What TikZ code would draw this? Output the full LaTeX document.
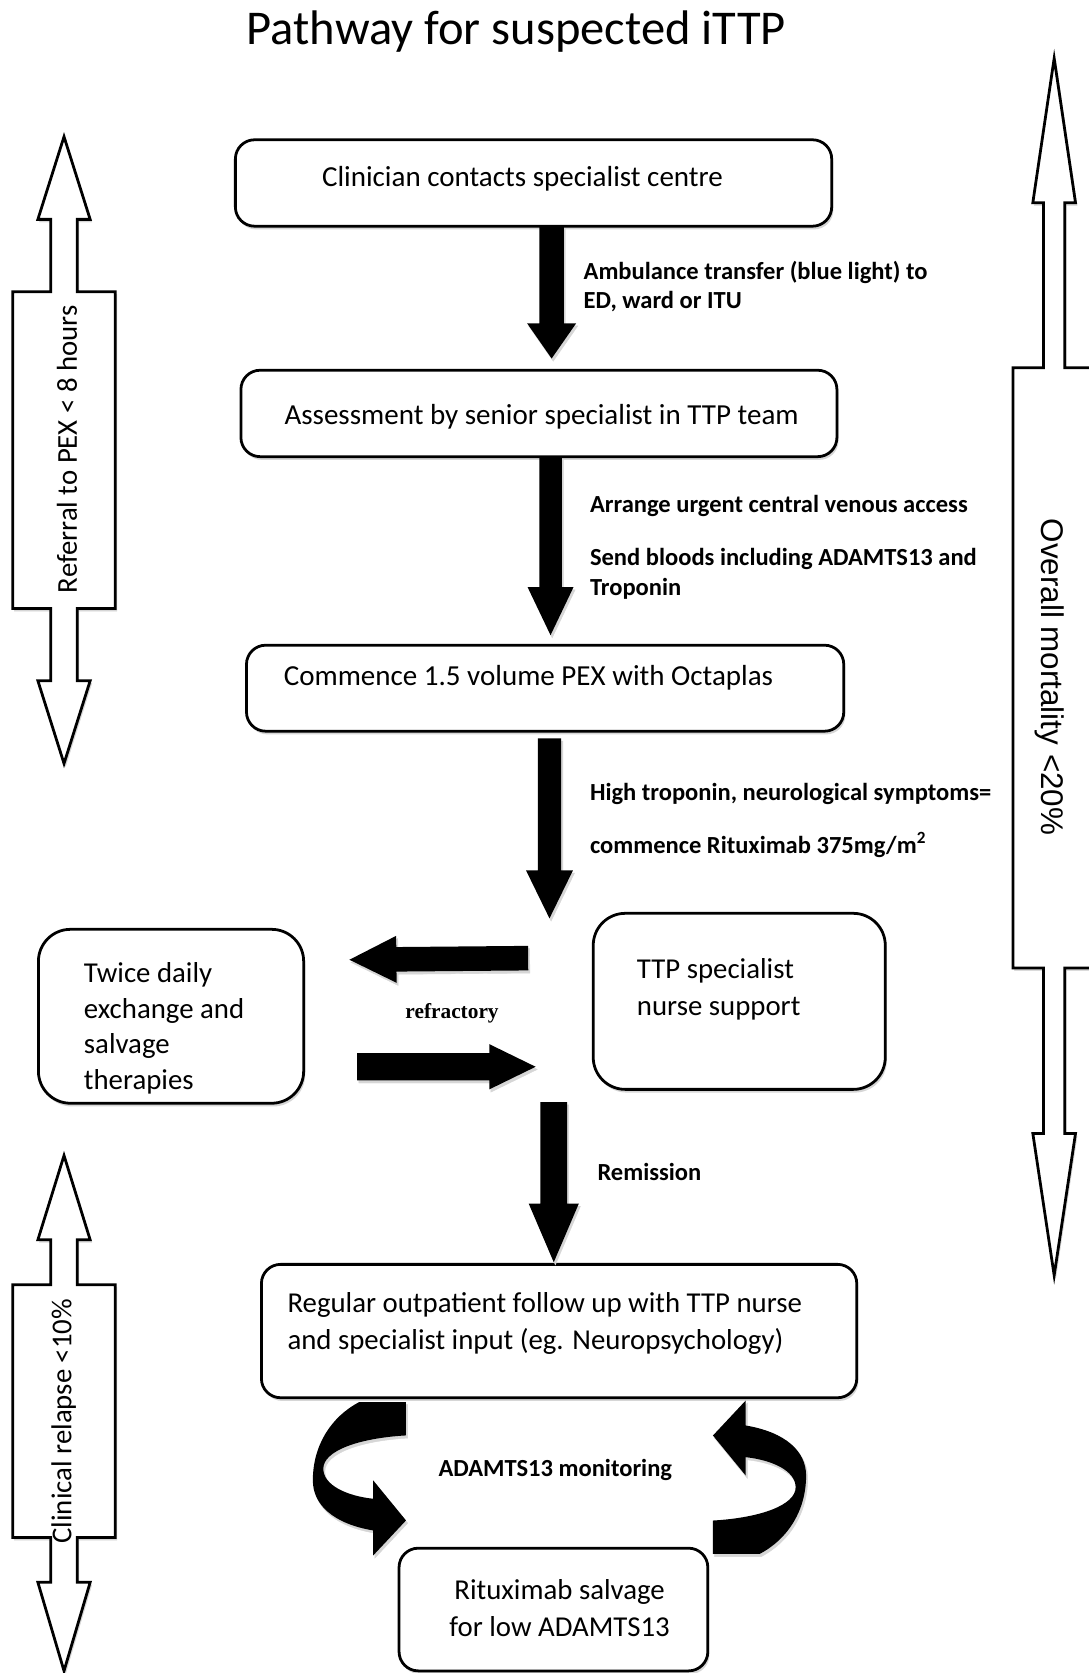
\documentclass[tikz,border=0pt]{standalone}
\usepackage{fontspec}
\setmainfont{Carlito}
\newfontfamily\arialfont{Liberation Sans}
\newfontfamily\timesfont{Liberation Serif}
\usetikzlibrary{calc,shadows}
\newcommand\blockarrow[5]{%
  \coordinate (tmpH) at ($(#2)!#5!(#1)$);
  \fill[blk] ($(#1)!#3!90:(#2)$) -- ($(tmpH)!#3!90:(#2)$) -- ($(tmpH)!#4!90:(#2)$) -- (#2)
    -- ($(tmpH)!#4!-90:(#2)$) -- ($(tmpH)!#3!-90:(#2)$) -- ($(#1)!#3!-90:(#2)$) -- cycle;}
\newcommand\dblarrow[7]{%
  \filldraw[dbl] (#1,#2) -- (#1+\dH,#3) -- (#1+\dS,#3) -- (#1+\dS,#4) -- (#1+\dB,#4) -- (#1+\dB,#5)
    -- (#1+\dS,#5) -- (#1+\dS,#6) -- (#1+\dH,#6) -- (#1,#7) -- (#1-\dH,#6) -- (#1-\dS,#6)
    -- (#1-\dS,#5) -- (#1-\dB,#5) -- (#1-\dB,#4) -- (#1-\dS,#4) -- (#1-\dS,#3) -- (#1-\dH,#3) -- cycle;}
\newcommand\curvpath{(336.8,1314) -- (380.5,1314) -- (380.5,1345.3)
  .. controls (335,1348) and (303,1360) .. (303,1376.5)
  .. controls (303,1392) and (325,1402) .. (349.8,1404.7)
  -- (349.8,1387.5) -- (380.5,1425) -- (349.8,1457.8) -- (349.8,1434.4)
  .. controls (312,1428) and (293.2,1410) .. (293.2,1387.5)
  .. controls (293.2,1355) and (310,1328) .. (336.8,1314) -- cycle}
\tikzset{
  shad/.style={preaction={fill=black!16, draw=black!16, transform canvas={shift={(1.5pt,-2.5pt)}}}},
  blk/.style={fill=black, shad},
  dbl/.style={fill=white, draw=black, line width=2.6pt, line join=miter, shad},
  box/.style={draw=black, fill=white, line width=2.6pt, rounded corners=18pt, inner sep=0pt, outer sep=0pt,
    drop shadow={opacity=1, fill=black!16, shadow xshift=1.5pt, shadow yshift=-3pt}},
  boxtxt/.style={inner sep=0pt, outer sep=0pt, font=\fontsize{27.2}{33}\selectfont},
  lbl/.style={inner sep=0pt, outer sep=0pt, anchor=base west, align=left, font=\fontsize{23}{28}\selectfont\bfseries},
}
\begin{document}
\begin{tikzpicture}[x=1pt, y=-1pt]
\useasboundingbox[fill=white] (0,0) rectangle (1020,1568);

% title
\node[boxtxt, font=\fontsize{45.5}{54}\selectfont, anchor=base] (title) at (484,42) {Pathway for suspected iTTP};

% side double arrows
\def\dH{24.5}\def\dS{12.5}\def\dB{48}
\dblarrow{60}{128.1}{205.6}{273.4}{570.3}{638}{715.6}
\dblarrow{60}{1083}{1162}{1204}{1441}{1483}{1566}
\def\dH{20}\def\dS{10}\def\dB{38.6}
\dblarrow{988}{54.7}{190}{344.7}{907.2}{1062.3}{1195.3}

\node[boxtxt, font=\fontsize{27}{32}\selectfont, rotate=90, anchor=base] (rtxt1) at (72,421) {Referral to PEX < 8 hours};
\node[boxtxt, font=\fontsize{27}{32}\selectfont, rotate=90, anchor=base] (rtxt2) at (67,1332) {Clinical relapse <10\%};
\node[boxtxt, font=\arialfont\fontsize{29.4}{34}\selectfont, rotate=-90, anchor=base] (rtxt3) at (976,634.5) {Overall mortality <20\%};

% boxes
\node[box, minimum width=558.9pt, minimum height=81pt] (b1) at (500.05,171.5) {};
\node[box, minimum width=558.6pt, minimum height=81pt] (b2) at (505.1,387.5) {};
\node[box, minimum width=559.8pt, minimum height=80.6pt] (b3) at (510.9,645) {};
\node[box, rounded corners=30pt, minimum width=248.6pt, minimum height=163pt] (b4) at (160.3,952.5) {};
\node[box, rounded corners=30pt, minimum width=273.7pt, minimum height=165pt] (b5) at (692.85,938.5) {};
\node[box, minimum width=558pt, minimum height=125pt] (b6) at (524,1247.5) {};
\node[box, minimum width=289.4pt, minimum height=115pt] (b7) at (518.7,1508.5) {};

% box texts (multi-line nodes: base anchor = last line)
\node[boxtxt, anchor=base] (t1) at (489.7,175) {Clinician contacts specialist centre};
\node[boxtxt, anchor=base] (t2) at (507.6,397.5) {Assessment by senior specialist in TTP team};
\node[boxtxt, anchor=base west] (t3) at (266,642.2) {Commence 1.5 volume PEX with Octaplas};
\node[boxtxt, anchor=base west, align=left, font=\fontsize{27}{33.3}\selectfont] (t4) at (78.7,1021) {Twice daily\\exchange and\\salvage\\therapies};
\node[boxtxt, anchor=base west, align=left, font=\fontsize{27}{34.6}\selectfont] (t5) at (597,951.6) {TTP specialist\\nurse support};
\node[boxtxt, anchor=base west, align=left, font=\fontsize{27}{34}\selectfont] (t6) at (269.5,1264.5) {Regular outpatient follow up with TTP nurse\\and specialist input (eg. Neuropsychology)};
\node[boxtxt, anchor=base, align=center, font=\fontsize{27}{35}\selectfont] (t7) at (524.5,1534) {Rituximab salvage\\for low ADAMTS13};

% straight block arrows
\coordinate (a1s) at (517,212);    \coordinate (a1e) at (517,336);
\coordinate (a2s) at (516,428);    \coordinate (a2e) at (516,595.3);
\coordinate (a3s) at (515,692);    \coordinate (a3e) at (515,860.7);
\coordinate (a4s) at (519,1033);   \coordinate (a4e) at (519,1183);
\coordinate (a5s) at (495,898);    \coordinate (a5e) at (327.5,899.5);
\coordinate (a6s) at (334.8,999.8);\coordinate (a6e) at (502,999.8);
\blockarrow{a1s}{a1e}{11.5pt}{23pt}{33pt}
\blockarrow{a2s}{a2e}{10.5pt}{21.5pt}{45pt}
\blockarrow{a3s}{a3e}{11pt}{22pt}{45pt}
\blockarrow{a4s}{a4e}{12.5pt}{23.5pt}{55pt}
\blockarrow{a5s}{a5e}{11.5pt}{22pt}{44pt}
\blockarrow{a6s}{a6e}{12.75pt}{21.2pt}{43.4pt}

% curved arrows
\fill[blk] \curvpath;
\fill[blk, rotate around={180:(524.35,1385.2)}] \curvpath;

% labels
\node[lbl, font=\fontsize{23}{27.5}\selectfont\bfseries] (l1) at (547,289.4) {Ambulance transfer (blue light) to\\ED, ward or ITU};
\node[lbl] (l2) at (553,480.6) {Arrange urgent central venous access};
\node[lbl] (l3) at (553,557.8) {Send bloods including ADAMTS13 and\\Troponin};
\node[lbl] (l4) at (553,750) {High troponin, neurological symptoms=};
\node[lbl] (l5) at (553,800) {commence Rituximab 375mg/m\textsuperscript{2}};
\node[lbl, font=\timesfont\bfseries\fontsize{20}{24}\selectfont] (l6) at (380,954.4) {refractory};
\node[lbl] (l7) at (560,1106) {Remission};
\node[lbl] (l8) at (411,1384) {ADAMTS13 monitoring};
\end{tikzpicture}
\end{document}
